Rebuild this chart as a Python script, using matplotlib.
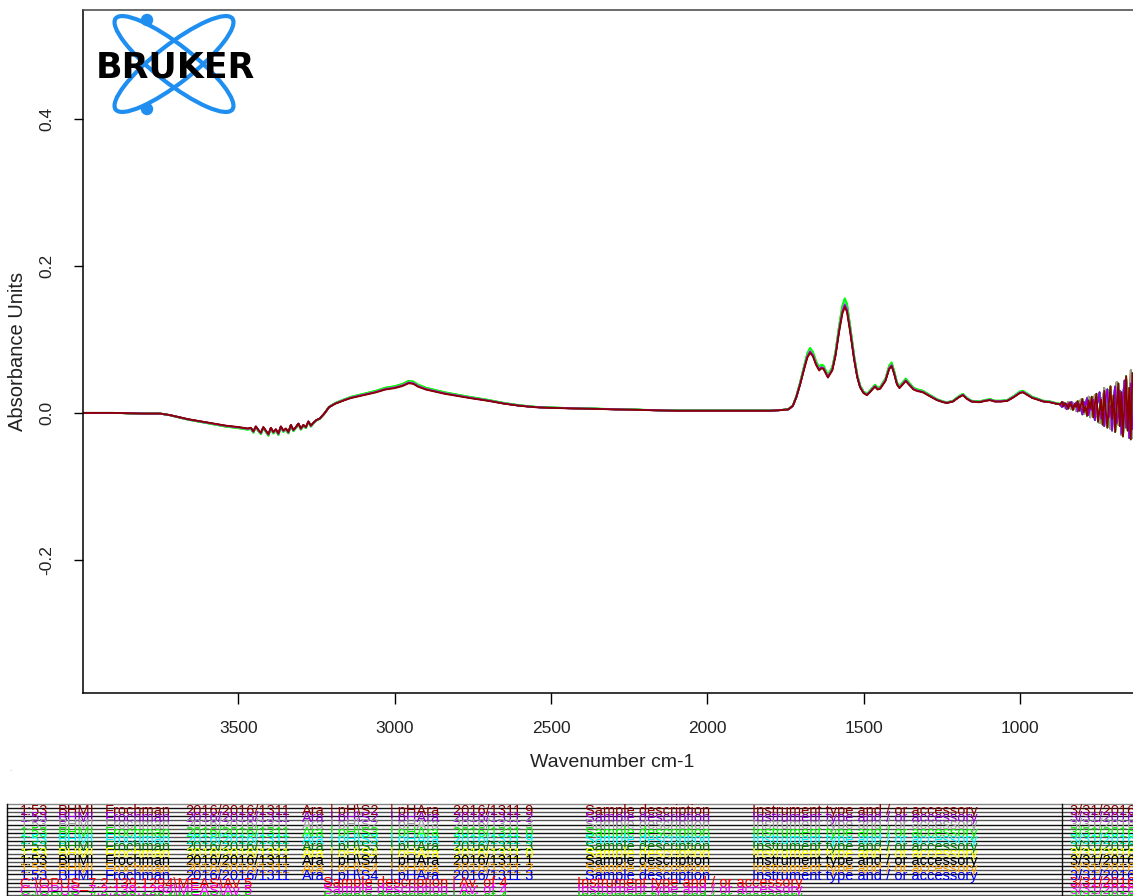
import matplotlib.pyplot as plt
import numpy as np
from matplotlib.patches import Ellipse, Circle

plt.rcParams['font.family'] = ['Liberation Sans', 'DejaVu Sans']

# mean absorbance spectrum (cm-1, AU)
wavenumber = [3997, 3900, 3800, 3750, 3720, 3690, 3660, 3620, 3580, 3540, 3500, 3470,
              3460, 3452, 3444, 3436, 3428, 3420, 3412, 3404, 3396, 3388, 3380, 3372, 3364, 3356,
              3348, 3340, 3332, 3324, 3316, 3308, 3300, 3292, 3284, 3276, 3268, 3260, 3250,
              3240, 3225, 3210, 3190, 3160, 3140, 3100, 3060, 3030, 3000, 2975, 2955,
              2940, 2925, 2900, 2870, 2840, 2800, 2760, 2700, 2650, 2600, 2550, 2500,
              2400, 2300, 2200, 2100, 2000, 1900, 1800, 1760, 1740,
              1726, 1715, 1703, 1690, 1680, 1671, 1662, 1652, 1642, 1635, 1628,
              1614, 1600, 1590, 1578, 1568, 1560, 1553, 1543, 1530, 1520, 1511,
              1500, 1489, 1478, 1470, 1463, 1455, 1447, 1430, 1418, 1410,
              1402, 1393, 1385, 1375, 1365, 1355, 1340, 1329, 1310, 1290,
              1265, 1245, 1233, 1214, 1195, 1182, 1170, 1155, 1130, 1110,
              1095, 1080, 1060, 1040, 1020, 1000, 990, 975, 960, 945,
              925, 904, 885, 872]
absorbance = [0.000, 0.000, -0.001, -0.001, -0.003, -0.006, -0.009, -0.012, -0.015, -0.018, -0.020, -0.022,
              -0.021, -0.026, -0.019, -0.024, -0.028, -0.020, -0.025, -0.030, -0.021, -0.027, -0.023, -0.029, -0.019, -0.025,
              -0.022, -0.027, -0.017, -0.024, -0.020, -0.015, -0.022, -0.017, -0.020, -0.012, -0.018, -0.014, -0.010,
              -0.008, -0.001, 0.008, 0.013, 0.018, 0.021, 0.025, 0.029, 0.033, 0.035, 0.038, 0.042,
              0.041, 0.037, 0.033, 0.030, 0.027, 0.024, 0.021, 0.017, 0.013, 0.010, 0.008, 0.007,
              0.006, 0.005, 0.004, 0.003, 0.003, 0.003, 0.003, 0.004, 0.005,
              0.010, 0.022, 0.040, 0.062, 0.078, 0.085, 0.080, 0.068, 0.060, 0.063, 0.062,
              0.050, 0.060, 0.080, 0.115, 0.140, 0.150, 0.143, 0.115, 0.075, 0.050, 0.036,
              0.028, 0.025, 0.030, 0.034, 0.037, 0.033, 0.034, 0.045, 0.062, 0.066,
              0.055, 0.040, 0.035, 0.040, 0.045, 0.040, 0.033, 0.031, 0.029, 0.024,
              0.018, 0.015, 0.014, 0.016, 0.022, 0.025, 0.020, 0.016, 0.015, 0.017,
              0.018, 0.016, 0.016, 0.017, 0.022, 0.028, 0.029, 0.025, 0.021, 0.019,
              0.016, 0.015, 0.013, 0.012]

# noisy end of the range, three different runs
tail_wn = [870, 865, 860, 855, 850, 845, 840, 835, 830, 825,
           820, 815, 810, 805, 800, 795, 790, 785, 780, 775,
           770, 765, 760, 755, 750, 745, 740, 735, 730, 725,
           720, 715, 710, 705, 700, 695, 690, 685, 680, 675,
           670, 665, 660, 655, 650, 645, 640]
tail_a = [0.012, 0.015, 0.009, 0.013, 0.011, 0.006, 0.014, 0.010, 0.004, 0.012,
          0.008, 0.016, 0.003, 0.010, 0.019, 0.001, 0.009, -0.004, 0.017, 0.006,
          0.022, -0.006, 0.012, 0.026, -0.012, 0.004, 0.018, -0.016, 0.030, 0.002,
          -0.020, 0.014, 0.036, -0.008, 0.024, -0.026, 0.006, 0.040, -0.018, 0.028,
          -0.032, 0.012, 0.050, -0.024, 0.034, -0.036, 0.054]
tail_b = [0.011, 0.008, 0.014, 0.010, 0.005, 0.013, 0.009, 0.015, 0.006, 0.011,
          0.014, 0.002, 0.012, 0.007, -0.002, 0.015, 0.010, 0.020, -0.003, 0.008,
          0.004, 0.018, -0.010, 0.010, 0.016, 0.028, -0.008, 0.006, -0.018, 0.022,
          0.032, -0.006, 0.010, -0.024, 0.018, 0.036, -0.014, -0.004, 0.030, -0.028,
          0.020, 0.044, -0.020, 0.008, -0.034, 0.040, -0.022]
tail_c = [0.010, 0.013, 0.012, 0.007, 0.011, 0.015, 0.008, 0.005, 0.013, 0.009,
          0.003, 0.014, 0.011, 0.018, 0.004, -0.001, 0.012, 0.007, 0.022, -0.006,
          0.010, 0.014, 0.024, -0.004, 0.002, -0.014, 0.020, 0.012, 0.034, -0.010,
          0.004, 0.026, -0.022, -0.012, 0.016, 0.030, 0.042, -0.016, 0.010, -0.030,
          0.026, -0.010, 0.046, 0.020, -0.028, 0.058, -0.034]

# band maximum near 1560 cm-1 per file (same order as the file table)
peak_1560 = [0.144, 0.147, 0.149, 0.156, 0.153, 0.150, 0.153, 0.149, 0.150, 0.149, 0.150, 0.150, 0.155]
file_colors = ['#8b0000', '#9400d3', '#a0a0a0', '#00ff00', '#00ffff', '#008000', '#ffff00',
               '#000000', '#ffa500', '#0000ff', '#ff0000', '#ff00ff', '#00e000']

# file table
file_group = ['S2', 'S2', 'S2', 'S3', 'S3', 'S3', 'S4', 'S4', 'S4', 'S4']
file_rep = ['9', '2', '3', '0', '9', '3', '0', '1', '2', '3']
avg_name = 'C:\\OPUS_7.2.139.1294\\MEAS\\Av 5'
avg_desc = 'Sample description | Av. of 4'
instrument = 'Instrument type and / or accessory'
meas_date = '3/31/2016 1:53:12 PM'

W, H = 1133, 896
fig = plt.figure(figsize=(W / 100, H / 100), dpi=100)
ax = fig.add_axes([83 / W, 1 - 693 / H, 1 - 83 / W, (693 - 10) / H])

tails = [tail_a, tail_b, tail_c]
wn = np.array(wavenumber + tail_wn)
ref = absorbance[wavenumber.index(1560)]
for i in reversed(range(len(peak_1560))):
    ab = np.concatenate([np.array(absorbance) * peak_1560[i] / ref, tails[i % 3]])
    ax.plot(wn, ab, color=file_colors[i], lw=1.3, solid_joinstyle='round')

ax.set_xlim(3997, 638)
ax.set_ylim(-0.381, 0.548)
ax.set_xticks([3500, 3000, 2500, 2000, 1500, 1000])
ax.set_yticks([-0.2, 0.0, 0.2, 0.4])
ax.set_yticklabels(['-0.2', '0.0', '0.2', '0.4'], rotation=90, va='center')
ax.tick_params(axis='x', length=8, width=1, pad=12, labelsize=12.5, labelcolor='#222')
ax.tick_params(axis='y', length=6.5, width=1, pad=14, labelsize=12.5, labelcolor='#222')
ax.spines['right'].set_visible(False)
for s in ['left', 'bottom', 'top']:
    ax.spines[s].set_linewidth(1.1)
ax.spines['top'].set_color('#444')

fig.text(18 / W, 1 - 351 / H, 'Absorbance Units', rotation=90, ha='center', va='center',
         fontsize=14.5, color='#222')
fig.text(612 / W, 1 - 762 / H, 'Wavenumber cm-1', ha='center', va='center',
         fontsize=14, color='#222')

# overlay in pixel units for the logo and the file table
ov = fig.add_axes([0, 0, 1, 1])
ov.set_xlim(0, W)
ov.set_ylim(H, 0)
ov.axis('off')

blue = '#1f8ef1'
for ang in (38, -38):
    ov.add_patch(Ellipse((174, 64), 148, 38, angle=ang, fill=False, ec=blue, lw=3))
ov.add_patch(Circle((147, 20), 5.5, color=blue))
ov.add_patch(Circle((147, 109), 5.5, color=blue))
ov.text(175, 77, 'BRUKER', family='DejaVu Sans', fontweight='bold',
        fontsize=25, color='black', ha='center', va='baseline')

ov.text(10, 773, '.', color='#aaa', fontsize=6, ha='center', va='bottom')

# table grid
ov.plot([7, W], [804, 804], color='#888', lw=1)
for k, y in enumerate(np.arange(808, 897, 4.15)):
    ov.plot([7, W], [y, y], color='#111' if k % 2 == 0 else '#555', lw=1.0)
ov.plot([7, 7], [804, H], color='#111', lw=1)
ov.plot([1062, 1062], [804, H], color='#111', lw=1)

fs = 10.5
for i in range(13):
    y = 811 + 7.2 * i
    c = file_colors[i]
    kw = dict(color=c, fontsize=fs, va='center', ha='left', clip_on=True)
    if i < 10:
        ov.text(20, y, '1:53', **kw)
        ov.text(58, y, 'BHMI', **kw)
        ov.text(105, y, 'Frochman', **kw)
        ov.text(185, y, '2016/2016/1311', **kw)
        ov.text(302, y, 'Ara', **kw)
        ov.text(330, y, '| pH\\' + file_group[i], **kw)
        ov.text(390, y, '| pHAra', **kw)
        ov.text(453, y, '2016/1311 ' + file_rep[i], **kw)
        ov.text(585, y, 'Sample description', **kw)
        ov.text(752, y, instrument, **kw)
    else:
        ov.text(20, y, avg_name, **kw)
        ov.text(323, y, avg_desc, **kw)
        ov.text(577, y, instrument, **kw)
    ov.text(1070, y, meas_date, **kw)

fig.savefig('out.png', dpi=100)
